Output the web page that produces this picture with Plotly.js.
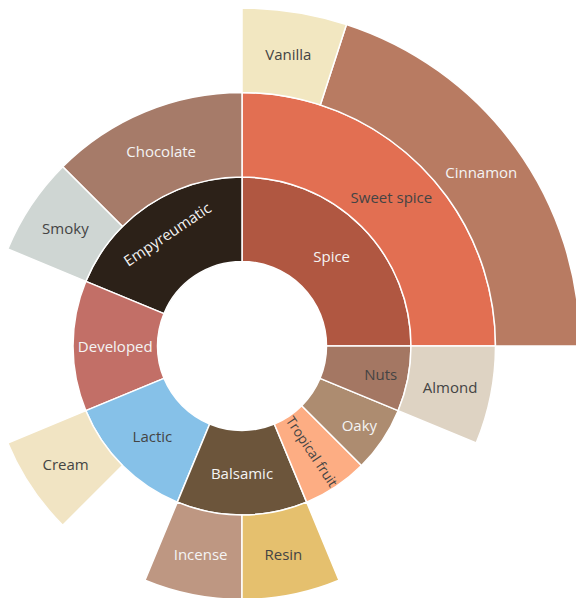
<!DOCTYPE html>
<html>
<head>
<meta charset="utf-8">
<script src="https://cdn.plot.ly/plotly-3.0.1.min.js"></script>
<style>
html, body { margin: 0; padding: 0; width: 576px; height: 598px; overflow: hidden; background: #fff; }
#chart { position: absolute; left: -96px; top: 8px; }
</style>
</head>
<body>
<div id="chart"></div>
<script>
const ids = ["root",
             "Spice", "Empyreumatic", "Developed", "Lactic", "Balsamic", "Tropical fruit", "Oaky", "Nuts",
             "Sweet spice", "Chocolate", "Smoky", "Cream", "Incense", "Resin", "Almond",
             "Cinnamon", "Vanilla"];
const labels = ["",
             "Spice", "Empyreumatic", "Developed", "Lactic", "Balsamic", "Tropical fruit", "Oaky", "Nuts",
             "Sweet spice", "Chocolate", "Smoky", "Cream", "Incense", "Resin", "Almond",
             "Cinnamon", "Vanilla"];
const parents = ["",
                 "root", "root", "root", "root", "root", "root", "root", "root",
                 "Spice", "Empyreumatic", "Empyreumatic", "Lactic", "Balsamic", "Balsamic", "Nuts",
                 "Sweet spice", "Sweet spice"];
const values = [80,
                20, 15, 10, 10, 10, 5, 5, 5,
                20, 10, 5, 5, 5, 5, 5,
                16, 4];
const colors = ["#FFFFFF",
                "#B05741", "#2C2118", "#C26F67", "#86C1E8", "#6C553B", "#FDAD83", "#AD8C70", "#A47763",
                "#E26F52", "#A67B69", "#CFD6D3", "#F1E4C3", "#BE9782", "#E5C06E", "#DED3C3",
                "#B87B62", "#F2E7C1"];
const W = "#F4F4F4", D = "#444444";
const textColors = [D,
                    W, W, W, D, W, D, W, D,
                    D, W, D, D, W, D, D,
                    W, D];

const trace = {
  type: "sunburst",
  ids: ids,
  labels: labels,
  parents: parents,
  values: values,
  branchvalues: "total",
  sort: true,
  marker: { colors: colors, line: { color: "#fff", width: 1.5 } },
  leaf: { opacity: 1 },
  textfont: { family: "Open Sans, sans-serif", size: 15, color: textColors },
  insidetextfont: { family: "Open Sans, sans-serif", size: 15, color: textColors },
  insidetextorientation: "auto",
  hoverinfo: "label+value"
};

const layout = {
  width: 676, height: 676,
  margin: { l: 0, r: 0, t: 0, b: 0, pad: 0 },
  paper_bgcolor: "rgba(0,0,0,0)",
  plot_bgcolor: "rgba(0,0,0,0)",
  font: { family: "Open Sans, sans-serif", size: 15 },
  showlegend: false
};

Plotly.newPlot("chart", [trace], layout, { displayModeBar: false, staticPlot: true });
</script>
</body>
</html>
